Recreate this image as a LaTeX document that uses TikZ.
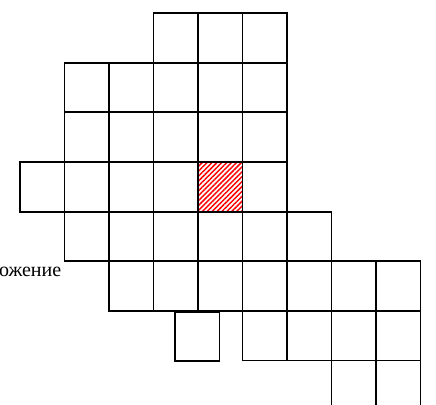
\documentclass[tikz,border=0pt]{standalone}
\usepackage{fontspec}
\setmainfont{Liberation Serif}
\usepackage{tikz}
\usetikzlibrary{patterns.meta}

\begin{document}
\begin{tikzpicture}[x=0.75pt, y=-0.75pt, cell/.style={draw, line width=1.4pt},
		marked/.style={pattern={Lines[angle=45, distance=2.6pt, line width=1.1pt]}, pattern color=red}]
		\useasboundingbox (0,0) rectangle (436,404);
		\clip (0,0) rectangle (436,404);
		% cell size 44.5 x 49.65, grid origin (20,13)
		\path[marked] (198,162.3) rectangle (242.5,212);
		% rows of the grid: row / first column / last column
		\foreach \r/\a/\b in {0/3/5, 1/1/5, 2/1/5, 3/0/5, 4/1/6, 5/2/8, 6/5/8, 7/7/8}
			\foreach \c in {\a,...,\b}
				\draw[cell] ({20+44.5*\c},{13+49.65*\r}) rectangle ++(44.5,49.65);
		% the odd cell, shifted by half a column
		\draw[cell] (175,311.6) rectangle ++(44.5,49.65);
		\node[anchor=base east, inner sep=0pt, font=\fontsize{15}{18}\selectfont] (pos) at (61.5,276) {Положение};
	\end{tikzpicture}
\end{document}
